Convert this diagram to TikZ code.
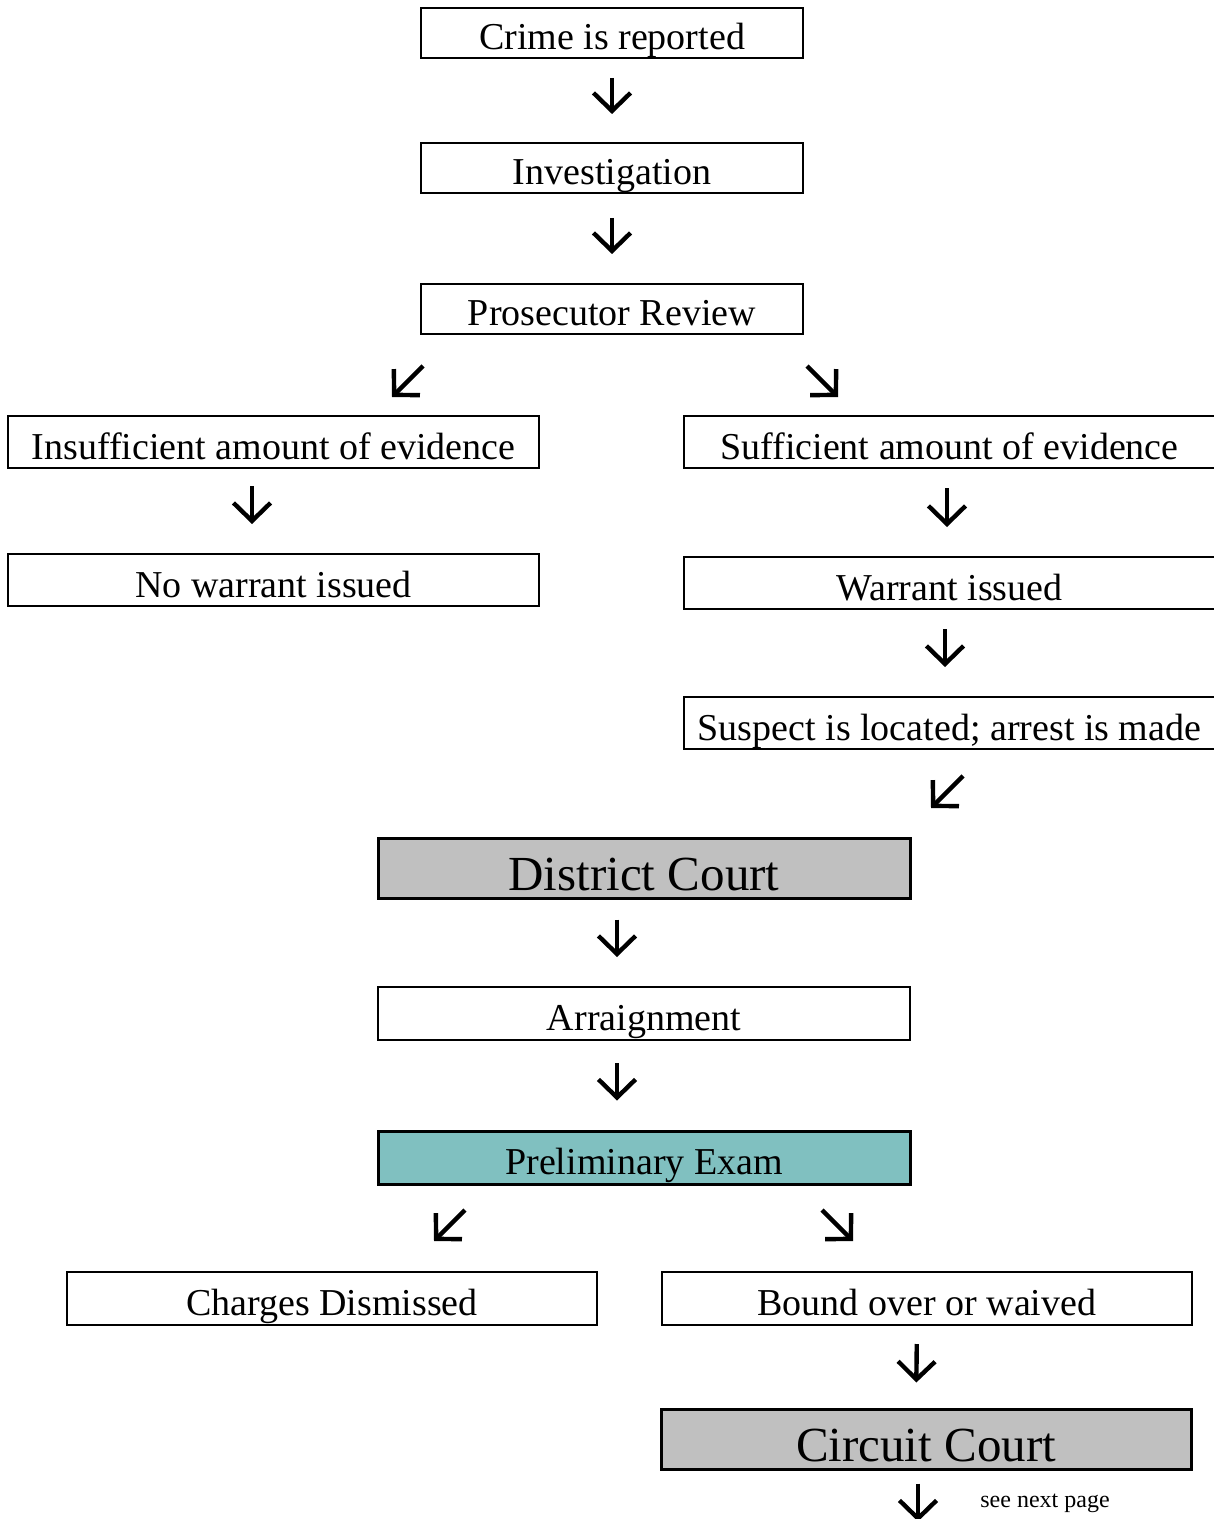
\documentclass[tikz,border=0pt]{standalone}
\usepackage{fontspec}
\setmainfont{Liberation Serif}
\usetikzlibrary{arrows.meta, calc}

\definecolor{courtgray}{RGB}{192,192,192}
\definecolor{examteal}{RGB}{128,192,192}

\begin{document}
\begin{tikzpicture}[
        x=0.5pt, y=-0.5pt,
        box/.style={draw, line width=1pt, inner sep=0pt, minimum width=265.5pt, minimum height=26pt,
            font=\fontsize{19}{19}\selectfont, text height=17pt, text depth=0pt},
        smallbox/.style={box, minimum width=191pt, minimum height=25pt},
        courtbox/.style={box, line width=1.5pt, fill=courtgray, minimum height=30pt,
            font=\fontsize{24.5}{24.5}\selectfont, text height=22.5pt},
        exambox/.style={box, line width=1.5pt, fill=examteal, minimum width=266pt, minimum height=26.5pt},
        arr/.style={-{Straight Barb[length=9pt, width=18.5pt, sharp]}, line width=2.2pt,
            shorten <=10pt, shorten >=14.5pt}
    ]
        \useasboundingbox (0,0) rectangle (1214,1519);

        % Investigation stage
        \node[smallbox] (crime) at (612, 33) {Crime is reported};
        \node[smallbox] (invest) at (612, 168) {Investigation};
        \node[smallbox] (review) at (612, 309) {Prosecutor Review};

        % Two outcomes of the review
        \node[box] (insuf) at (273.5, 442) {Insufficient amount of evidence};
        \node[box] (nowarrant) at (273.5, 580) {No warrant issued};
        \node[box] (suff) at (949.5, 442) {Sufficient amount of evidence};
        \node[box] (warrant) at (949.5, 583) {Warrant issued};
        \node[box] (suspect) at (949.5, 723) {Suspect is located; arrest is made};

        % District court
        \node[courtbox, minimum width=266pt] (district) at (644, 868) {District Court};
        \node[box, minimum width=266pt, minimum height=26.5pt] (arraign) at (644, 1013.5) {Arraignment};
        \node[exambox] (prelim) at (644, 1157.5) {Preliminary Exam};

        % Outcomes of the preliminary exam
        \node[box, minimum width=265pt, minimum height=26.5pt] (charges) at (332, 1298.5) {Charges Dismissed};
        \node[box, minimum width=265pt, minimum height=26.5pt] (bound) at (927, 1298.5) {Bound over or waived};
        \node[courtbox, minimum width=265pt] (circuit) at (926, 1439) {Circuit Court};
        \node[anchor=base, font=\fontsize{12}{12}\selectfont] (note) at (1045, 1507) {see next page};

        % Straight arrows
        \draw[arr, shorten <=9.5pt, shorten >=14pt] (crime) -- (invest);
        \draw[arr, shorten <=12pt] (invest) -- (review);
        \draw[arr, shorten <=8.5pt] ($(insuf.south)+(-21.5,0)$) -- ($(nowarrant.north)+(-21.5,0)$);
        \draw[arr, shorten <=9.5pt] ($(suff.south)+(-2.5,0)$) -- ($(warrant.north)+(-2.5,0)$);
        \draw[arr, shorten <=9.5pt] ($(warrant.south)+(-4.5,0)$) -- ($(suspect.north)+(-4.5,0)$);
        \draw[arr] ($(district.south)+(-27,0)$) -- ($(arraign.north)+(-27,0)$);
        \draw[arr, shorten <=11pt] ($(arraign.south)+(-27,0)$) -- ($(prelim.north)+(-27,0)$);
        \draw[arr, shorten <=9pt, shorten >=12.5pt] ($(bound.south)+(-10,0)$) -- ($(circuit.north)+(-10,0)$);
        \coordinate (offpage) at ($(circuit.south)+(-8,51)$);
        \draw[arr, shorten <=6.5pt, shorten >=0pt] ($(circuit.south)+(-8,0)$) -- (offpage);

        % Diagonal arrows
        \coordinate (revL1) at (423, 366);
        \coordinate (revL2) at (392, 397);
        \coordinate (revR1) at (807, 366);
        \coordinate (revR2) at (838, 397);
        \coordinate (arrest1) at (963, 776);
        \coordinate (arrest2) at (931, 808);
        \coordinate (examL1) at (465, 1210);
        \coordinate (examL2) at (434, 1241);
        \coordinate (examR1) at (822, 1210);
        \coordinate (examR2) at (853, 1241);
        \draw[arr, shorten <=0pt, shorten >=0pt] (revL1) -- (revL2);
        \draw[arr, shorten <=0pt, shorten >=0pt] (revR1) -- (revR2);
        \draw[arr, shorten <=0pt, shorten >=0pt] (arrest1) -- (arrest2);
        \draw[arr, shorten <=0pt, shorten >=0pt] (examL1) -- (examL2);
        \draw[arr, shorten <=0pt, shorten >=0pt] (examR1) -- (examR2);
    \end{tikzpicture}
\end{document}
